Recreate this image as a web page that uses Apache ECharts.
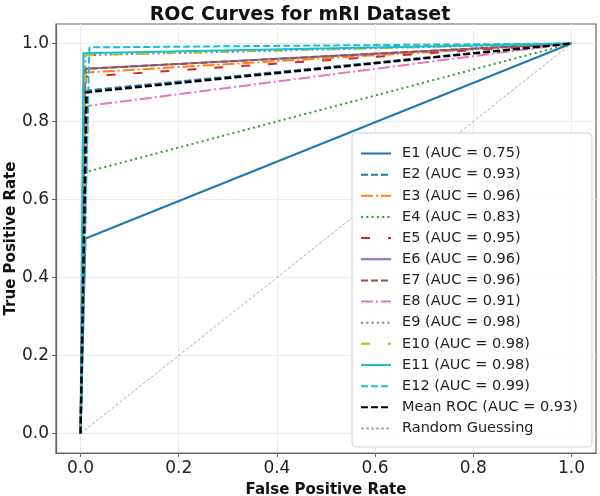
<!DOCTYPE html>
<html>
<head>
<meta charset="utf-8">
<script src="https://cdn.jsdelivr.net/npm/echarts@6/dist/echarts.min.js"></script>
<style>html,body{margin:0;padding:0;background:#fff;}#c{width:600px;height:496px;}</style>
</head>
<body>
<div id="c"></div>
<script>
const names = ['E1','E2','E3','E4','E5','E6','E7','E8','E9','E10','E11','E12','Mean ROC'];
const aucs  = [0.75,0.93,0.96,0.83,0.95,0.96,0.96,0.91,0.98,0.98,0.98,0.99,0.93];
const fprs  = [0.01,0.015,0.006,0.01,0.01,0.01,0.01,0.015,0.01,0.01,0.006,0.018,0.012];
const tprs  = [0.50,0.88,0.925,0.67,0.915,0.935,0.935,0.84,0.97,0.97,0.975,0.99,0.875];
const tickValues = [0,0.2,0.4,0.6,0.8,1.0];

const colors = ['#1f77b4','#1f77b4','#ff7f0e','#2ca02c','#d62728','#9467bd','#8c564b','#e377c2','#7f7f7f','#bcbd22','#17becf','#17becf','#000000'];
const dashes = ['solid',[7,3],[12,3,2,3],[2,3.3],[9,18],'solid',[7,3],[12,3,2,3],[2,3.3],[9,18],'solid',[7,3],[7,3]];
const widths = [2,2,2,2,2,2,2,2,2,2,2,2,2.5];

const series = names.map((n,i)=>({
  name: `${n} (AUC = ${aucs[i].toFixed(2)})`,
  type: 'line',
  data: [[0,0],[fprs[i],tprs[i]],[1,1]],
  symbol: 'none',
  animation: false,
  z: 2 + i,
  lineStyle: {color: colors[i], width: widths[i], type: dashes[i]},
  itemStyle: {color: colors[i]}
}));
series.push({
  name: 'Random Guessing',
  type: 'line',
  data: [[0,0],[1,1]],
  symbol: 'none',
  animation: false,
  z: 1,
  lineStyle: {color: '#aaaaaa', width: 1, type: [3,2]},
  itemStyle: {color: '#aaaaaa'}
});

const font = 'DejaVu Sans';
const chart = echarts.init(document.getElementById('c'), null, {renderer: 'canvas'});
chart.setOption({
  animation: false,
  backgroundColor: '#fff',
  title: {
    text: 'ROC Curves for mRI Dataset',
    left: 'center', top: 1,
    textStyle: {fontFamily: font, fontWeight: 'bold', fontSize: 19, color: '#111'}
  },
  grid: {left: 56, right: 4, top: 24, bottom: 43, show: true, borderColor: '#666', borderWidth: 1.2, containLabel: false, outerBoundsMode: 'none'},
  xAxis: {
    type: 'value', min: -0.05, max: 1.05,
    name: 'False Positive Rate', nameLocation: 'middle', nameGap: 30,
    nameTextStyle: {fontFamily: font, fontWeight: 'bold', fontSize: 15, color: '#111'},
    axisLine: {show: true, onZero: false, lineStyle: {color: '#666', width: 1.2}},
    axisTick: {show: true, length: 4, customValues: tickValues, lineStyle: {color: '#666'}},
    axisLabel: {customValues: tickValues, formatter: v => v.toFixed(1), fontFamily: font, fontSize: 17, color: '#222', margin: 7},
    splitLine: {show: true, lineStyle: {color: '#ececec', width: 1}}
  },
  yAxis: {
    type: 'value', min: -0.05, max: 1.05,
    name: 'True Positive Rate', nameLocation: 'middle', nameGap: 37, nameRotate: 90,
    nameMoveOverlap: false,
    nameTextStyle: {fontFamily: font, fontWeight: 'bold', fontSize: 15, color: '#111'},
    axisLine: {show: true, onZero: false, lineStyle: {color: '#666', width: 1.2}},
    axisTick: {show: true, length: 4, customValues: tickValues, lineStyle: {color: '#666'}},
    axisLabel: {customValues: tickValues, formatter: v => v.toFixed(1), fontFamily: font, fontSize: 17, color: '#222', margin: 7},
    splitLine: {show: true, lineStyle: {color: '#ececec', width: 1}}
  },
  legend: {
    orient: 'vertical',
    left: 352, top: 133,
    padding: [13, 14, 11, 8],
    itemWidth: 30, itemHeight: 14, itemGap: 6.15,
    backgroundColor: 'rgba(255,255,255,0.85)',
    borderColor: '#d0d0d0', borderWidth: 1, borderRadius: 4,
    itemStyle: {opacity: 0},
    textStyle: {fontFamily: font, fontSize: 14.5, color: '#222', padding: [0,0,0,6]}
  },
  series: series
});
</script>
</body>
</html>
